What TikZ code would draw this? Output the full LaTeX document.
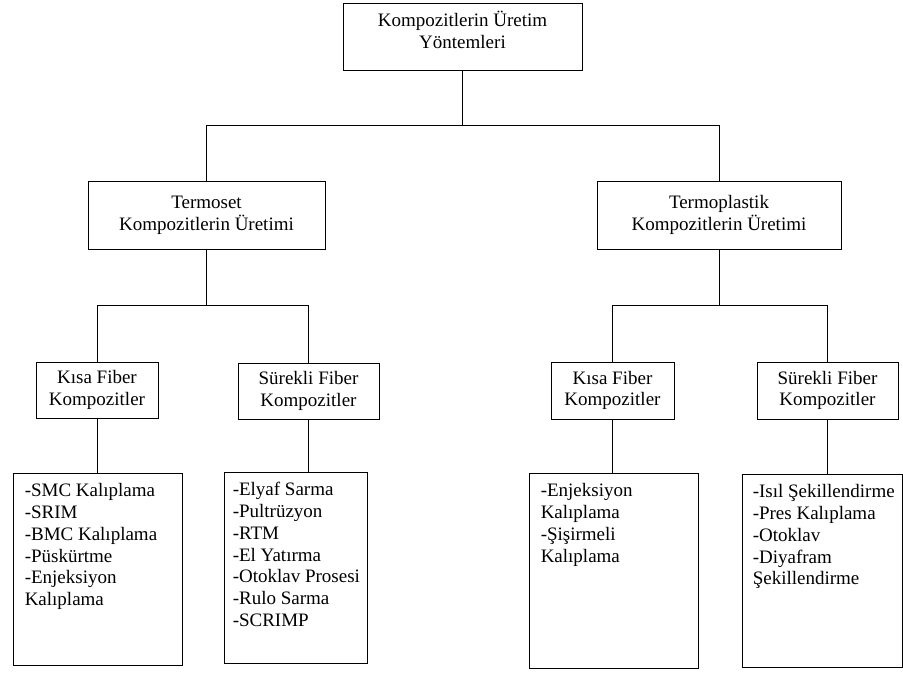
\documentclass[tikz,border=0pt]{standalone}
\usepackage{fontspec}
\setmainfont{Liberation Serif}
\newcommand\dfs{\fontsize{19pt}{21.8pt}\selectfont}
\begin{document}
\begin{tikzpicture}[x=1pt,y=-1pt,
  box/.style={draw, line width=0.9pt, inner sep=0pt, align=center, font=\dfs},
  listtext/.style={anchor=north west, inner sep=0pt, align=left, font=\dfs},
  conn/.style={line width=0.8pt}]
\useasboundingbox (0,0) rectangle (903,673);
% level 1
\node[box, minimum width=239, minimum height=67, text depth=14pt] (top) at (462.5,36.5) {Kompozitlerin Üretim\\Yöntemleri};
% level 2
\node[box, minimum width=237, minimum height=68] (tset) at (206.5,215) {Termoset\\Kompozitlerin Üretimi};
\node[box, minimum width=244, minimum height=68] (tplast) at (719,215) {Termoplastik\\Kompozitlerin Üretimi};
% level 3
\node[box, minimum width=122, minimum height=56] (kisa1) at (97,390) {Kısa Fiber\\Kompozitler};
\node[box, minimum width=141, minimum height=56] (sur1) at (308.5,391) {Sürekli Fiber\\Kompozitler};
\node[box, minimum width=123, minimum height=57] (kisa2) at (612.5,390.5) {Kısa Fiber\\Kompozitler};
\node[box, minimum width=141, minimum height=57] (sur2) at (827.5,390.5) {Sürekli Fiber\\Kompozitler};
% level 4 boxes
\node[box, minimum width=169, minimum height=192] (list1) at (97.5,569) {};
\node[box, minimum width=143, minimum height=191] (list2) at (295.5,567.5) {};
\node[box, minimum width=169, minimum height=195] (list3) at (613.5,570.5) {};
\node[box, minimum width=160, minimum height=193] (list4) at (822,570.5) {};
% level 4 texts
\node[listtext] (t1) at ([xshift=12pt,yshift=-10pt]list1.north west) {\rule{0pt}{14pt}-SMC Kalıplama\\-SRIM\\-BMC Kalıplama\\-Püskürtme\\-Enjeksiyon\\Kalıplama};
\node[listtext] (t2) at ([xshift=9pt,yshift=-10pt]list2.north west) {\rule{0pt}{14pt}-Elyaf Sarma\\-Pultrüzyon\\-RTM\\-El Yatırma\\-Otoklav Prosesi\\-Rulo Sarma\\-SCRIMP};
\node[listtext] (t3) at ([xshift=12pt,yshift=-10pt]list3.north west) {\rule{0pt}{14pt}-Enjeksiyon\\Kalıplama\\-Şişirmeli\\Kalıplama};
\node[listtext] (t4) at ([xshift=11pt,yshift=-10pt]list4.north west) {\rule{0pt}{14pt}-Isıl Şekillendirme\\-Pres Kalıplama\\-Otoklav\\-Diyafram\\Şekillendirme};
% junctions
\coordinate (j1) at (462.5,125);
\coordinate (j2) at (206.5,305);
\coordinate (j3) at (719,305);
% connectors
\draw[conn] (top.south) -- (j1);
\draw[conn] (tset.north) |- (j1);
\draw[conn] (tplast.north) |- (j1);
\draw[conn] (tset.south) -- (j2);
\draw[conn] (kisa1.north) |- (j2);
\draw[conn] (sur1.north) |- (j2);
\draw[conn] (tplast.south) -- (j3);
\draw[conn] (kisa2.north) |- (j3);
\draw[conn] (sur2.north) |- (j3);
\draw[conn] (kisa1.south) -- (kisa1.south |- list1.north);
\draw[conn] (sur1.south) -- (sur1.south |- list2.north);
\draw[conn] (kisa2.south) -- (kisa2.south |- list3.north);
\draw[conn] (sur2.south) -- (sur2.south |- list4.north);
\end{tikzpicture}
\end{document}
